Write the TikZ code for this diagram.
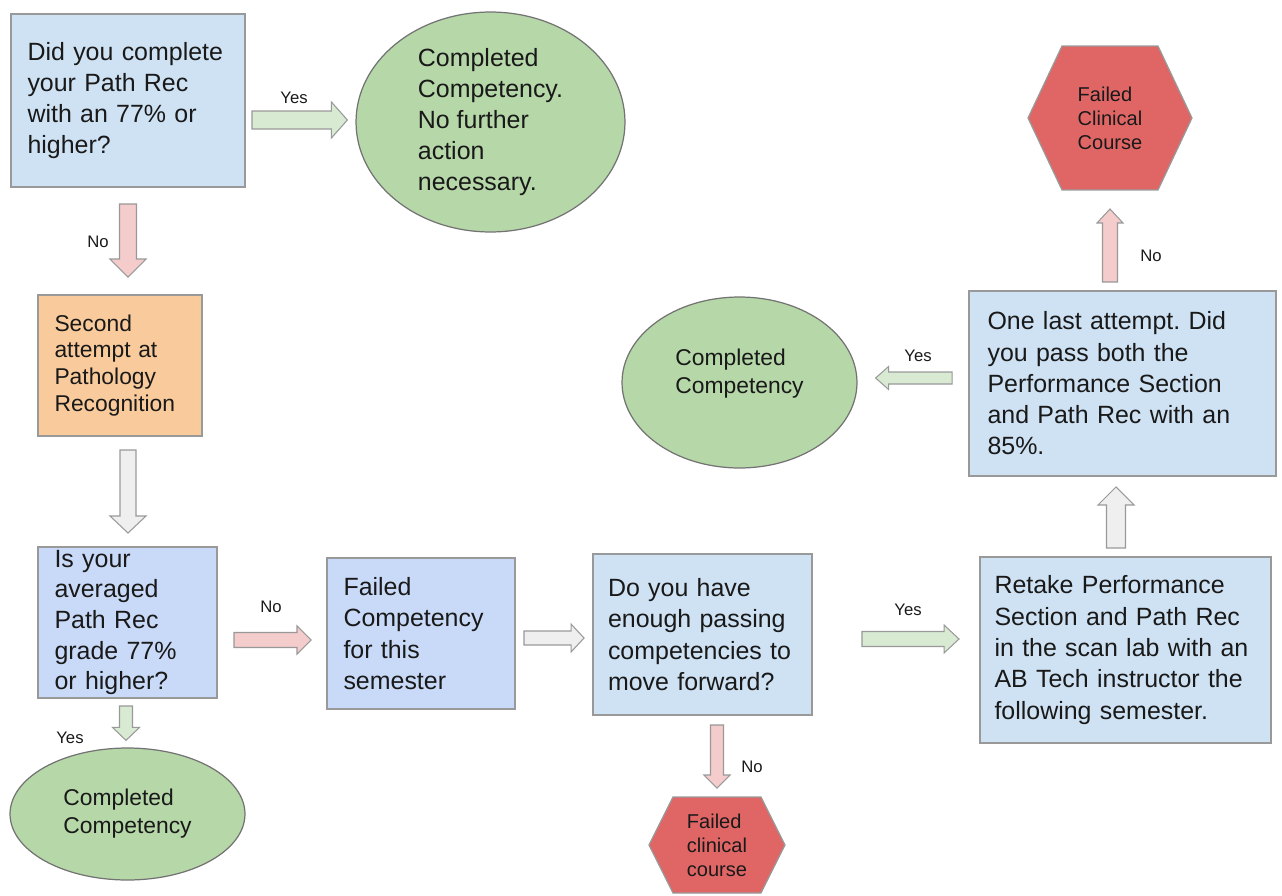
\documentclass[tikz,border=0pt]{standalone}
\usepackage{fontspec}
\setmainfont{Liberation Sans}
\usetikzlibrary{calc,backgrounds,shapes.geometric}
\frenchspacing
\definecolor{boxblue}{HTML}{CFE2F3}
\definecolor{deepblue}{HTML}{C9DAF8}
\definecolor{boxorange}{HTML}{F9CB9C}
\definecolor{donegreen}{HTML}{B6D7A8}
\definecolor{failred}{HTML}{E06666}
\definecolor{yesgreen}{HTML}{D9EAD3}
\definecolor{nored}{HTML}{F4CCCC}
\definecolor{nextgrey}{HTML}{EFEFEF}
\definecolor{edgegrey}{HTML}{999999}

% fat arrow: style, from, to, shaft half width, head half width, head length
\newcommand{\blockarrow}[6]{%
  \coordinate (ba-a) at (#2);
  \coordinate (ba-b) at (#3);
  \coordinate (ba-c) at ($(ba-b)!#6!(ba-a)$);
  \draw[#1] ($(ba-a)!#4!90:(ba-b)$) -- ($(ba-c)!#4!90:(ba-b)$) -- ($(ba-c)!#5!90:(ba-b)$) -- (ba-b)
    -- ($(ba-c)!#5!-90:(ba-b)$) -- ($(ba-c)!#4!-90:(ba-b)$) -- ($(ba-a)!#4!-90:(ba-b)$) -- cycle;
}

\tikzset{
  stepbox/.style={draw=edgegrey, line width=0.8pt, rectangle, inner sep=0pt, outer sep=0pt, align=left, font=\fontsize{14.2}{17.8}\selectfont},
  donebox/.style={draw=black!55, line width=0.7pt, fill=donegreen, ellipse, inner sep=0pt, align=left},
  failbox/.style={inner sep=0pt, outer sep=0pt, align=left, font=\fontsize{11.4}{13.6}\selectfont},
  yesarrow/.style={draw=edgegrey, fill=yesgreen, line width=0.6pt},
  noarrow/.style={draw=edgegrey, fill=nored, line width=0.6pt},
  nextarrow/.style={draw=edgegrey, fill=nextgrey, line width=0.6pt},
  answer/.style={font=\fontsize{9.5}{11}\selectfont, inner sep=0pt}
}

\begin{document}
\begin{tikzpicture}[x=0.02cm, y=-0.02cm, every node/.style={text=black!90}]
\useasboundingbox (0,0) rectangle (1282,896);

% Draw the questions and outcomes
\node[stepbox, fill=boxblue, minimum width=4.68cm, minimum height=3.46cm, text width=4.02cm] (pathrec) at (128,100.5) {Did you complete\\your Path Rec\\with an 77\% or\\higher?};
\node[donebox, minimum width=5.38cm, minimum height=4.4cm, font=\fontsize{14.2}{17.6}\selectfont] (done1) at (490.5,122) {Completed\\Competency.\\No further\\action\\necessary.};
\node[stepbox, fill=boxorange, minimum width=3.28cm, minimum height=2.82cm, text width=2.62cm, font=\fontsize{13}{15.3}\selectfont] (second) at (120,365.5) {Second\\attempt at\\Pathology\\Recognition};
\node[stepbox, fill=deepblue, minimum width=3.58cm, minimum height=3.02cm, text width=2.92cm, font=\fontsize{14.2}{17.4}\selectfont] (average) at (127.5,622.5) {Is your\\averaged\\Path Rec\\grade 77\%\\or higher?};
\node[donebox, minimum width=4.7cm, minimum height=2.64cm, font=\fontsize{13}{15.9}\selectfont] (done3) at (127.5,814) {Completed\\Competency};
\node[stepbox, fill=deepblue, minimum width=3.76cm, minimum height=3.02cm, text width=3.1cm] (semester) at (421,633.5) {Failed\\Competency\\for this\\semester};
\node[stepbox, fill=boxblue, minimum width=4.38cm, minimum height=3.22cm, text width=3.78cm] (enough) at (702.5,634.5) {Do you have\\enough passing\\competencies to\\move forward?};
\node[failbox, minimum width=2.72cm, minimum height=1.92cm] (fail2) at (717,845) {Failed\\clinical\\course};
\node[stepbox, fill=boxblue, minimum width=5.82cm, minimum height=3.72cm, text width=5.24cm] (retake) at (1125.5,650) {Retake Performance\\Section and Path Rec\\in the scan lab with an\\AB Tech instructor the\\following semester.};
\node[stepbox, fill=boxblue, minimum width=6.14cm, minimum height=3.7cm, text width=5.4cm] (last) at (1122.5,383.5) {One last attempt. Did\\you pass both the\\Performance Section\\and Path Rec with an\\85\%.};
\node[donebox, minimum width=4.7cm, minimum height=3.42cm, font=\fontsize{13}{15.9}\selectfont, text depth=0.45cm] (done2) at (739.5,382.5) {Completed\\Competency};
\node[failbox, minimum width=3.28cm, minimum height=2.88cm] (fail1) at (1110,118) {Failed\\Clinical\\Course};

% Hexagons behind the fail texts
\begin{scope}[on background layer]
\foreach \hex/\cut in {fail1/34, fail2/24}
  \draw[draw=edgegrey, fill=failred, line width=0.7pt] (\hex.west) -- ($(\hex.north west)+(\cut,0)$) -- ($(\hex.north east)-(\cut,0)$)
    -- (\hex.east) -- ($(\hex.south east)-(\cut,0)$) -- ($(\hex.south west)+(\cut,0)$) -- cycle;
\end{scope}

% Draw arrows
\blockarrow{yesarrow}{$(pathrec.east)+(7,19.5)$}{$(done1.west)+(-8,-2)$}{0.18cm}{0.36cm}{0.32cm}
\blockarrow{noarrow}{$(pathrec.south)+(0,17)$}{$(second.north)+(8,-18)$}{0.17cm}{0.36cm}{0.36cm}
\blockarrow{nextarrow}{$(second.south)+(8,14)$}{$(average.north)+(0.5,-14)$}{0.16cm}{0.36cm}{0.34cm}
\blockarrow{yesarrow}{$(average.south)+(-1.5,8)$}{$(done3.north)+(-1.5,-7)$}{0.13cm}{0.27cm}{0.26cm}
\blockarrow{noarrow}{$(average.east)+(17,17.5)$}{$(semester.west)+(-16,6.5)$}{0.15cm}{0.28cm}{0.28cm}
\blockarrow{nextarrow}{$(semester.east)+(9,4.5)$}{$(enough.west)+(-9,3.5)$}{0.14cm}{0.28cm}{0.26cm}
\blockarrow{noarrow}{$(enough.south)+(14.5,10)$}{$(fail2.north)+(0,-9)$}{0.13cm}{0.26cm}{0.26cm}
\blockarrow{yesarrow}{$(enough.east)+(50,4.5)$}{$(retake.west)+(-21,-11)$}{0.15cm}{0.28cm}{0.3cm}
\blockarrow{nextarrow}{$(retake.north)+(-9.5,-9)$}{$(last.south)+(-6.5,11)$}{0.19cm}{0.36cm}{0.36cm}
\blockarrow{yesarrow}{$(last.west)+(-17,-5.5)$}{$(done2.east)+(18,-4.5)$}{0.12cm}{0.23cm}{0.26cm}
\blockarrow{noarrow}{$(last.north)+(-12.5,-9)$}{$(fail1.south)+(0,19)$}{0.15cm}{0.26cm}{0.28cm}

% Answers
\node[answer] (pathrecyes) at (294,98) {Yes};
\node[answer] (pathrecno) at (98,242) {No};
\node[answer] (averageyes) at (70,738) {Yes};
\node[answer] (averageno) at (271,607) {No};
\node[answer] (enoughno) at (752,767) {No};
\node[answer] (enoughyes) at (908,610) {Yes};
\node[answer] (lastyes) at (918,356) {Yes};
\node[answer] (lastno) at (1151,256) {No};
\end{tikzpicture}
\end{document}
